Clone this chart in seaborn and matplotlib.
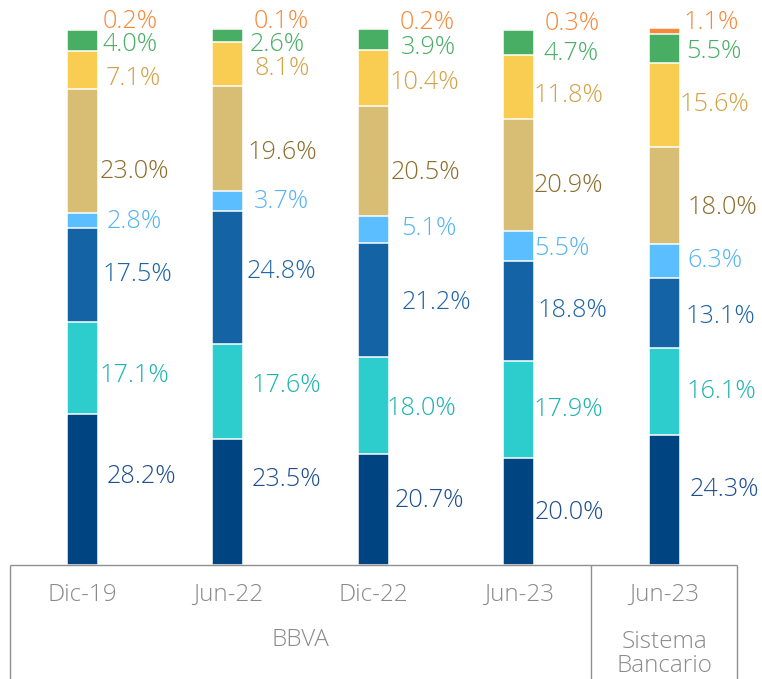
import numpy as np
import pandas as pd
import matplotlib
matplotlib.use("Agg")
import matplotlib.pyplot as plt
import matplotlib.transforms as mtransforms
import seaborn as sns

# ---------------- data ----------------
categories = ["Dic-19", "Jun-22", "Dic-22", "Jun-23", "Jun-23"]
cat_keys = ["BBVA Dic-19", "BBVA Jun-22", "BBVA Dic-22", "BBVA Jun-23", "SB Jun-23"]
groups = ["BBVA", "Sistema\nBancario"]

seg1 = [28.2, 23.5, 20.7, 20.0, 24.3]
seg2 = [17.1, 17.6, 18.0, 17.9, 16.1]
seg3 = [17.5, 24.8, 21.2, 18.8, 13.1]
seg4 = [2.8, 3.7, 5.1, 5.5, 6.3]
seg5 = [23.0, 19.6, 20.5, 20.9, 18.0]
seg6 = [7.1, 8.1, 10.4, 11.8, 15.6]
seg7 = [4.0, 2.6, 3.9, 4.7, 5.5]
seg8 = [0.2, 0.1, 0.2, 0.3, 1.1]
series = [seg1, seg2, seg3, seg4, seg5, seg6, seg7, seg8]

# ---------------- style ----------------
bar_colors = ["#004481", "#2DCCCD", "#1464A5", "#5BBEFF",
              "#D8BE75", "#F8CD51", "#48AE64", "#F7893B"]
label_colors = ["#1E4F8E", "#1DB3AF", "#1F64A6", "#55B4F0",
                "#8C6D2B", "#D3A246", "#48AE64", "#F7893B"]
# label nudges: vertical (in % units) and horizontal (in pixels)
label_dy = [
    [2.3, 4.1, 1.6, -0.2, 2.0],
    [-1.5, 1.2, -0.5, 0.0, 0.0],
    [0.0, 1.1, -0.4, 0.0, -0.7],
    [-0.3, 0.0, 0.15, -0.5, 0.1],
    [-3.9, -2.6, -2.15, -2.0, -2.2],
    [-1.5, -0.7, -0.8, -1.6, 0.1],
    [-0.8, -1.7, -1.55, -2.0, -0.5],
    [1.4, 1.2, 1.2, 1.1, 1.5],
]
label_dx = [
    [9, 8, 6, 0, 10],
    [2, 8, -2, -1, 7],
    [5, 3, 13, 3, 6],
    [9, 10, 12, 0, 8],
    [2, 4, 2, -1, 8],
    [8, 11, 1, -1, 0],
    [5, 6, 12, 9, 7],
    [5, 10, 11, 10, 4],
]

font = ["Open Sans", "DejaVu Sans"]
sns.set_theme(style="white")
plt.rcParams["font.family"] = font
FS_VAL = 18.2
FS_CAT = 17.5
WT = "light"

W, H = 762, 679
fig = plt.figure(figsize=(W / 100, H / 100), dpi=100)
ax = fig.add_axes([0, (H - 565) / H, 1, 537 / H])

bar_w = 0.213
n = len(categories)
cum = np.cumsum(np.array(series), axis=0)

# stacked bars drawn as overlapping cumulative layers (top layer first)
for k in range(len(series) - 1, -1, -1):
    df = pd.DataFrame({"cat": cat_keys, "val": cum[k]})
    sns.barplot(data=df, x="cat", y="val", order=cat_keys, color=bar_colors[k],
                saturation=1, width=bar_w, edgecolor="white", linewidth=1.1,
                errorbar=None, ax=ax)

ax.set_xlim(-82.5 / 145.4, (W - 82.5) / 145.4)
ax.set_ylim(0, 100)
ax.set_xlabel("")
ax.set_ylabel("")
ax.set_xticks([])
ax.set_yticks([])
for s in ax.spines.values():
    s.set_visible(False)

# value labels
for k, seg in enumerate(series):
    for i in range(n):
        mid = cum[k][i] - seg[i] / 2 + label_dy[k][i]
        ax.annotate(f"{seg[i]:.1f}%", xy=(i + bar_w / 2, mid),
                    xytext=(label_dx[k][i] * 0.72, 0), textcoords="offset points",
                    ha="left", va="center", fontsize=FS_VAL, fontweight=WT,
                    color=label_colors[k], annotation_clip=False)

# bottom category box
trans = mtransforms.blended_transform_factory(ax.transData, ax.transAxes)
line_kw = dict(color="#8F8F8F", lw=1.0, clip_on=False, transform=trans,
               solid_capstyle="butt")
ax.plot([-0.5, 4.5], [0, 0], **line_kw)
for xb in [-0.5, 3.5, 4.5]:
    ax.plot([xb, xb], [0, -0.3], **line_kw)

for i, c in enumerate(categories):
    ax.text(i, -30 / 537, c, transform=trans, ha="center", va="center",
            fontsize=FS_CAT, fontweight=WT, color="#8A8A8A")

ax.text(1.5, -75 / 537, groups[0], transform=trans, ha="center", va="center",
        fontsize=FS_CAT, fontweight=WT, color="#8A8A8A")
ax.text(4, -89 / 537, groups[1], transform=trans, ha="center", va="center",
        fontsize=FS_CAT, fontweight=WT, color="#8A8A8A", linespacing=1.05)

fig.savefig("out.png", dpi=100)
